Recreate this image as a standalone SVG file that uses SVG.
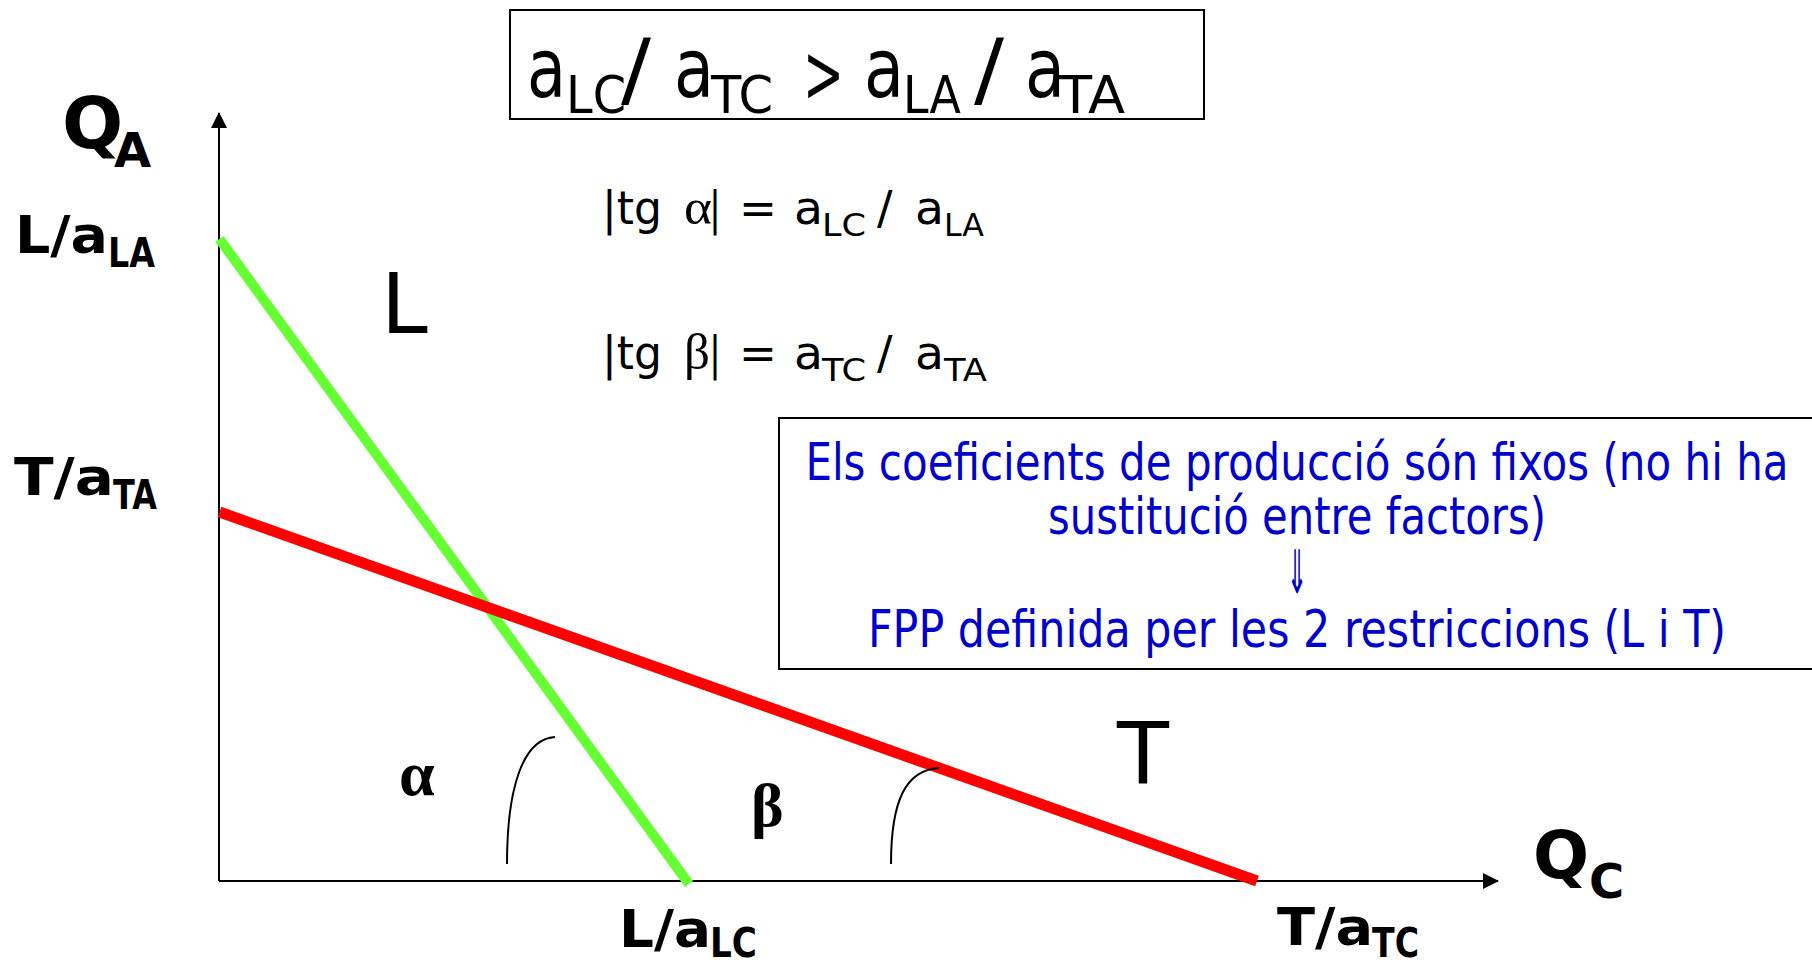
<svg xmlns="http://www.w3.org/2000/svg" width="1812" height="964" viewBox="0 0 1812 964">
<style>
.reg{font-family:"DejaVu Sans","Liberation Sans",sans-serif;fill:#000}
.bold{font-family:"DejaVu Sans","Liberation Sans",sans-serif;font-weight:bold;fill:#000}
.greek{font-family:"Liberation Serif","DejaVu Serif",serif;fill:#000}
.blue{font-family:"DejaVu Sans","Liberation Sans",sans-serif;fill:#0000cc;font-size:52px}
.box{fill:#fff;stroke:#000;stroke-width:2}
.axis{stroke:#000;stroke-width:2;fill:none}
.arc{stroke:#000;stroke-width:2;fill:none}
</style>
<defs>
<marker id="ah" viewBox="0 0 16 16" refX="15" refY="8" markerWidth="16" markerHeight="16" markerUnits="userSpaceOnUse" orient="auto">
<path d="M0,0 L16,8 L0,16 z" fill="#000"/>
</marker>
</defs>
<rect width="1812" height="964" fill="#fff"/>

<g id="title">
<rect class="box" x="510" y="10" width="694" height="109"/>
<text class="reg" font-size="82">
<tspan x="527" y="97" textLength="39" lengthAdjust="spacingAndGlyphs">a</tspan><tspan x="566" y="113" font-size="52" textLength="60" lengthAdjust="spacingAndGlyphs">LC</tspan><tspan x="621" y="97" textLength="30" lengthAdjust="spacingAndGlyphs">/</tspan><tspan x="674" y="97" textLength="40" lengthAdjust="spacingAndGlyphs">a</tspan><tspan x="711" y="113" font-size="52" textLength="62" lengthAdjust="spacingAndGlyphs">TC</tspan><tspan x="803" y="102" textLength="41" lengthAdjust="spacingAndGlyphs">&gt;</tspan><tspan x="864" y="97" textLength="40" lengthAdjust="spacingAndGlyphs">a</tspan><tspan x="903" y="113" font-size="52" textLength="58" lengthAdjust="spacingAndGlyphs">LA</tspan><tspan x="974" y="97" textLength="30" lengthAdjust="spacingAndGlyphs">/</tspan><tspan x="1025" y="97" textLength="40" lengthAdjust="spacingAndGlyphs">a</tspan><tspan x="1059" y="113" font-size="52" textLength="66" lengthAdjust="spacingAndGlyphs">TA</tspan>
</text>
</g>

<g id="tg-alpha">
<text class="reg" font-size="46"><tspan x="602" y="224" textLength="60" lengthAdjust="spacingAndGlyphs">|tg</tspan><tspan font-family="Liberation Serif,serif" x="684" y="224" font-size="50" textLength="28" lengthAdjust="spacingAndGlyphs">α</tspan><tspan x="709" y="224" textLength="12" lengthAdjust="spacingAndGlyphs">|</tspan><tspan x="739" y="224" textLength="38" lengthAdjust="spacingAndGlyphs">=</tspan><tspan x="794" y="224" textLength="29" lengthAdjust="spacingAndGlyphs">a</tspan><tspan x="822" y="236" font-size="32" textLength="44" lengthAdjust="spacingAndGlyphs">LC</tspan><tspan x="877" y="224">/</tspan><tspan x="915" y="224" textLength="29" lengthAdjust="spacingAndGlyphs">a</tspan><tspan x="944" y="236" font-size="32" textLength="40" lengthAdjust="spacingAndGlyphs">LA</tspan></text>
</g>

<g id="tg-beta">
<text class="reg" font-size="46"><tspan x="602" y="369" textLength="60" lengthAdjust="spacingAndGlyphs">|tg</tspan><tspan font-family="Liberation Serif,serif" x="684" y="369" font-size="50" textLength="26" lengthAdjust="spacingAndGlyphs">β</tspan><tspan x="709" y="369" textLength="12" lengthAdjust="spacingAndGlyphs">|</tspan><tspan x="739" y="369" textLength="38" lengthAdjust="spacingAndGlyphs">=</tspan><tspan x="794" y="369" textLength="29" lengthAdjust="spacingAndGlyphs">a</tspan><tspan x="822" y="381" font-size="32" textLength="44" lengthAdjust="spacingAndGlyphs">TC</tspan><tspan x="877" y="369">/</tspan><tspan x="915" y="369" textLength="29" lengthAdjust="spacingAndGlyphs">a</tspan><tspan x="944" y="381" font-size="32" textLength="43" lengthAdjust="spacingAndGlyphs">TA</tspan></text>
</g>

<g id="note">
<rect class="box" x="779" y="418" width="1040" height="251"/>
<text class="blue" transform="translate(1297,480) scale(0.75,1)" text-anchor="middle" textLength="1311" lengthAdjust="spacingAndGlyphs">Els coeficients de producció són fixos (no hi ha</text>
<text class="blue" transform="translate(1297,534) scale(0.75,1)" text-anchor="middle" textLength="664" lengthAdjust="spacingAndGlyphs">sustitució entre factors)</text>
<text class="blue" transform="translate(1297,593) scale(0.42,1)" text-anchor="middle" style="font-size:60px">⇓</text>
<text class="blue" transform="translate(1297,647) scale(0.75,1)" text-anchor="middle" textLength="1144" lengthAdjust="spacingAndGlyphs">FPP definida per les 2 restriccions (L i T)</text>
</g>

<g id="connectors">
<line class="axis" x1="219" y1="881" x2="219" y2="113" marker-end="url(#ah)"/>
<line class="axis" x1="219" y1="881" x2="1498" y2="881" marker-end="url(#ah)"/>
<line x1="219.5" y1="239" x2="689" y2="884" stroke="#66ff33" stroke-width="10"/>
<line x1="219.5" y1="512" x2="1257" y2="881" stroke="#ff0000" stroke-width="11"/>
<path class="arc" d="M507,864 C507,790 522,739 555,737"/>
<path class="arc" d="M891,864 C891,800 906,770 939,768"/>
</g>

<g id="axis-labels">
<text class="bold" font-size="72"><tspan x="62" y="148">Q</tspan><tspan x="114" y="167" font-size="48">A</tspan></text>
<text class="bold" font-size="52"><tspan x="15" y="253" textLength="93" lengthAdjust="spacingAndGlyphs">L/a</tspan><tspan x="108" y="267" font-size="41" textLength="47" lengthAdjust="spacingAndGlyphs">LA</tspan></text>
<text class="bold" font-size="52"><tspan x="14" y="495" textLength="100" lengthAdjust="spacingAndGlyphs">T/a</tspan><tspan x="113" y="509" font-size="41" textLength="44" lengthAdjust="spacingAndGlyphs">TA</tspan></text>
<text class="bold" font-size="52"><tspan x="619" y="947" textLength="92" lengthAdjust="spacingAndGlyphs">L/a</tspan><tspan x="710" y="957" font-size="41" textLength="47" lengthAdjust="spacingAndGlyphs">LC</tspan></text>
<text class="bold" font-size="52"><tspan x="1277" y="945" textLength="96" lengthAdjust="spacingAndGlyphs">T/a</tspan><tspan x="1372" y="957" font-size="41" textLength="47" lengthAdjust="spacingAndGlyphs">TC</tspan></text>
<text class="bold" font-size="66"><tspan x="1533" y="878">Q</tspan><tspan x="1589" y="898" font-size="48">C</tspan></text>
</g>

<g id="region-labels">
<text class="reg" x="381" y="333" font-size="84">L</text>
<text class="reg" x="1143" y="783" font-size="85" text-anchor="middle">T</text>
<text class="greek" x="399" y="795" font-size="64" font-weight="bold">α</text>
<text class="greek" x="751" y="826" font-size="62" font-weight="bold">β</text>
</g>
</svg>
